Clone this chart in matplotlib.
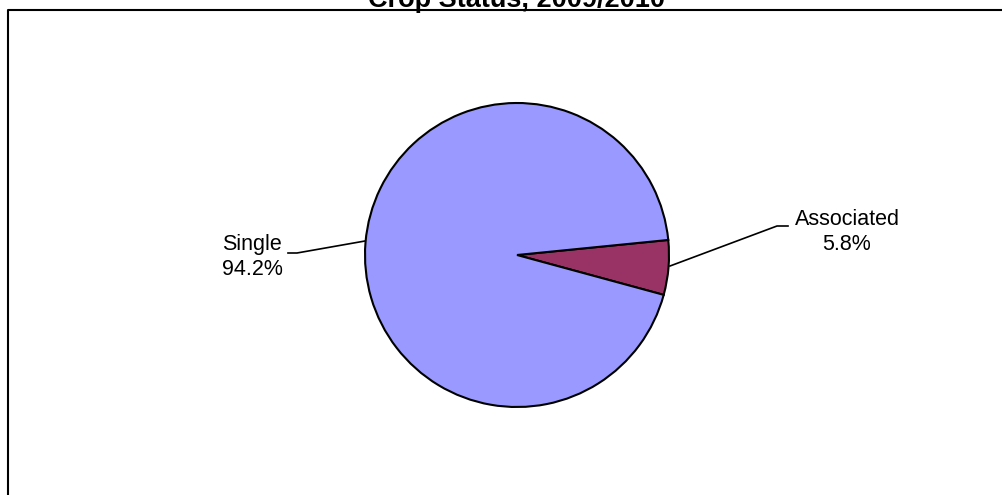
import matplotlib
matplotlib.use("Agg")
import matplotlib.pyplot as plt

# crop status shares
labels = ["Associated", "Single"]
shares = [5.8, 94.2]
colors = ["#993366", "#9999FF"]

plt.rcParams["font.family"] = ["Liberation Sans", "DejaVu Sans"]

W, H = 1003, 495
fig = plt.figure(figsize=(W / 100, H / 100), dpi=100)
ax = fig.add_axes([0, 0, 1, 1])

cx, cy, r = 517, H - 255, 152
wedges, _ = ax.pie(shares, colors=colors, startangle=-15.2, center=(cx, cy), radius=r,
                   wedgeprops=dict(edgecolor="black", linewidth=1.5), frame=True)
ax.set_xlim(0, W)
ax.set_ylim(0, H)
ax.set_aspect("equal")
ax.axis("off")

# outer chart frame (right and bottom edges fall outside the image)
ax.plot([8, 8, W + 5], [-5, H - 10, H - 10], color="black", lw=1.5, clip_on=False)

# labels with leader lines
ax.text(252, H - 257, "%s\n%.1f%%" % (labels[1], shares[1]), ha="center", va="center",
        fontsize=15.5, linespacing=1.2)
ax.plot([288, 297, 365], [H - 253, H - 253, H - 241], color="black", lw=1.2)

ax.text(847, H - 232, "%s\n%.1f%%" % (labels[0], shares[0]), ha="center", va="center",
        fontsize=15.5, linespacing=1.2)
ax.plot([670, 777, 788], [H - 266, H - 226, H - 226], color="black", lw=1.2)

fig.text(517 / W, (H - 7) / H, "Crop Status, 2009/2010", ha="center", va="baseline",
         fontsize=19.5, fontweight="bold")

fig.savefig("out.png", dpi=100)
